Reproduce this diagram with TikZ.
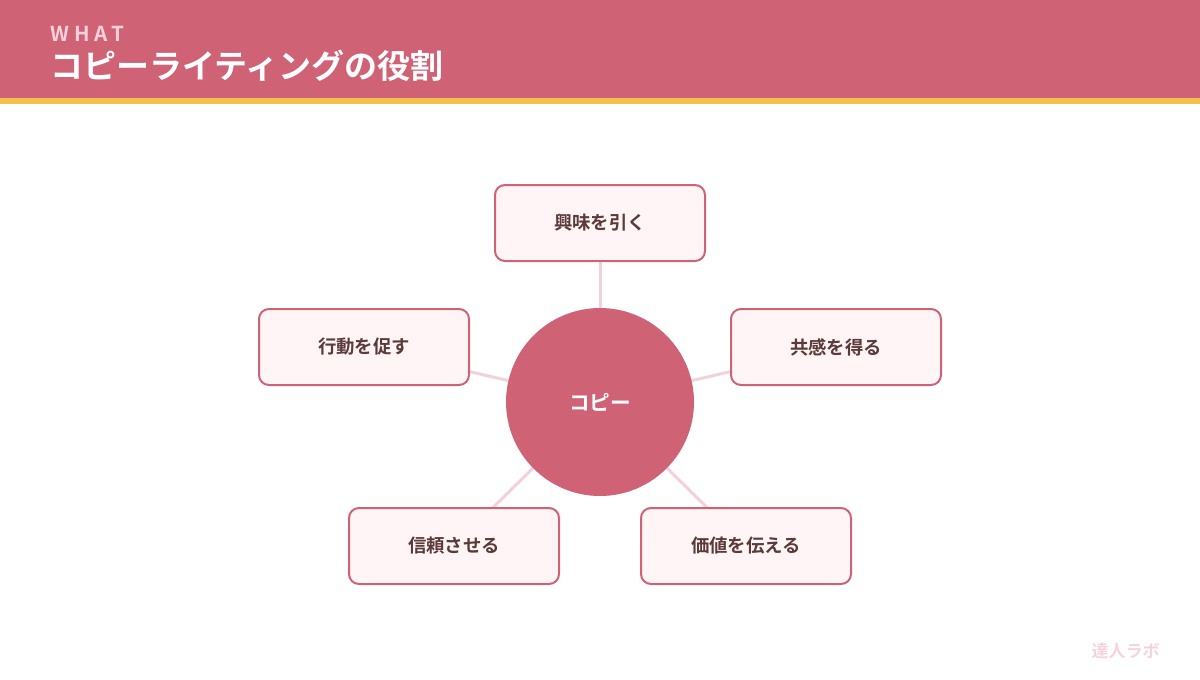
\documentclass[tikz,border=0pt]{standalone}
\usepackage{fontspec}
\setmainfont{Noto Sans CJK JP}[BoldFont={* Bold}]
\newfontfamily\jpbold{Noto Sans CJK JP Bold}
\usetikzlibrary{backgrounds}
\definecolor{rose}{HTML}{D06276}
\definecolor{gold}{HTML}{F2C14E}
\definecolor{blush}{HTML}{FFF4F6}
\definecolor{linkpink}{HTML}{F2D2DA}
\definecolor{cocoa}{HTML}{5B3A3A}
\definecolor{paleword}{HTML}{FAD0DA}
\definecolor{markpink}{HTML}{F5D3DC}
\tikzset{
    role/.style={draw=rose,fill=blush,line width=1pt,rounded corners=5pt,
        minimum width=105pt,minimum height=38pt,inner sep=0pt,
        text=cocoa,font=\jpbold\fontsize{9.2pt}{11pt}\selectfont},
    hub/.style={circle,fill=rose,minimum size=94pt,inner sep=0pt,
        text=white,font=\jpbold\fontsize{10.3pt}{12pt}\selectfont},
    link/.style={draw=linkpink,line width=1.5pt},
}
\begin{document}
\begin{tikzpicture}[x=0.5pt,y=-0.5pt]
\useasboundingbox (0,0) rectangle (1200,680);
% header
\fill[rose] (0,0) rectangle (1200,98);
\fill[gold] (0,98) rectangle (1200,104);
\node[anchor=west,inner sep=0pt,text=paleword,
    font=\jpbold\fontsize{10.3pt}{12pt}\selectfont\addfontfeatures{LetterSpace=24}] (kicker) at (50,34) {WHAT};
\node[anchor=west,inner sep=0pt,text=white,
    font=\jpbold\fontsize{16.5pt}{19pt}\selectfont] (title) at (50,66) {コピーライティングの役割};
% hub and roles
\node[hub] (c) at (600,402) {コピー};
\node[role] (t) at (600,223) {興味を引く};
\node[role] (r) at (836,347) {共感を得る};
\node[role] (l) at (364,347) {行動を促す};
\node[role] (bl) at (454,546) {信頼させる};
\node[role] (br) at (746,546) {価値を伝える};
\scoped[on background layer]{
    \path[link]
        (c.center) edge[link] (t.center)
        (c.center) edge[link] (r.center)
        (c.center) edge[link] (l.center)
        (c.center) edge[link] (bl.center)
        (c.center) edge[link] (br.center);
}
\node[anchor=east,inner sep=0pt,text=markpink,
    font=\jpbold\fontsize{8.5pt}{10pt}\selectfont] (mark) at (1160,651) {達人ラボ};
\end{tikzpicture}
\end{document}
